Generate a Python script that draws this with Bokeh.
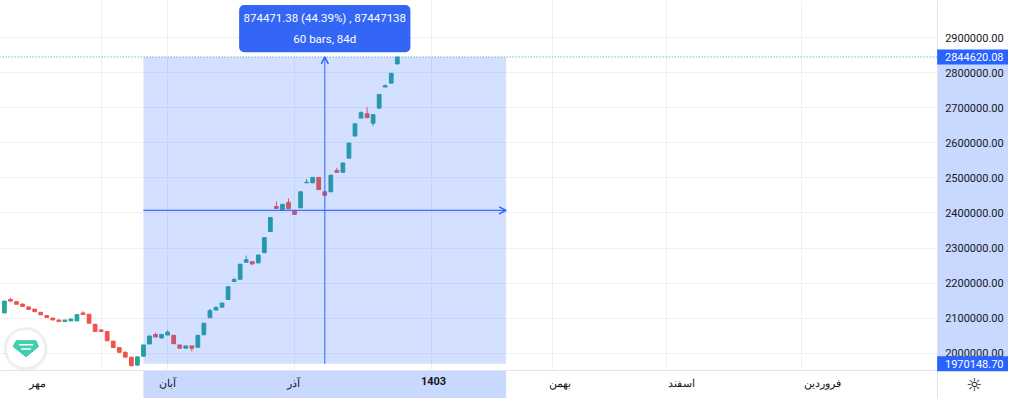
import numpy as np
from bokeh.plotting import figure
from bokeh.models import (Range1d, LinearAxis, FixedTicker, NumeralTickFormatter,
                          Arrow, OpenHead, Grid, ColumnDataSource)
from bokeh.core.properties import value
from bokeh.embed import file_html
from bokeh.resources import INLINE

# ---------------- data (daily candles) ----------------
open_ = [2115068, 2153425, 2147122, 2140547, 2132329, 2126027, 2116986, 2107671, 2100548, 2095068,
         2090411, 2092329, 2092329, 2115068, 2111507, 2083014, 2066575, 2062192, 2034795, 2016438,
         2002740, 1989041, 1966301, 1991781, 2026575, 2053973, 2043835, 2052055, 2051233, 2023836,
         2014521, 2021096, 2017260, 2052877, 2101370, 2123288, 2131507, 2153425, 2204658, 2210959,
         2259452, 2261096, 2257534, 2286849, 2347123, 2418356, 2409041, 2430137, 2404658, 2414521,
         2485753, 2485753, 2501370, 2460274, 2460274, 2521370, 2515890, 2556164, 2619178, 2670411,
         2683014, 2655616, 2698630, 2758904, 2769863, 2824657]
high_ = [2148767, 2158082, 2147122, 2140547, 2132329, 2126027, 2116986, 2107671, 2100548, 2095068,
         2095068, 2097808, 2110411, 2119726, 2111507, 2083014, 2068493, 2062192, 2034795, 2016438,
         2005479, 1989041, 1989863, 2023836, 2049315, 2059452, 2053973, 2065753, 2051233, 2023836,
         2021096, 2021096, 2051233, 2085753, 2126849, 2134247, 2143288, 2189863, 2215616, 2253973,
         2278630, 2261096, 2280274, 2329589, 2387123, 2432877, 2424658, 2441096, 2404658, 2460274,
         2496712, 2501370, 2501370, 2460274, 2507671, 2528767, 2542466, 2599178, 2653973, 2689589,
         2701370, 2680274, 2737808, 2766301, 2798082, 2844620.08]
low_ = [2115068, 2148767, 2139726, 2133424, 2125205, 2118630, 2109589, 2102192, 2095068, 2090411,
        2090411, 2092329, 2092329, 2110411, 2085753, 2062192, 2062192, 2035616, 2016438, 2002740,
        1989041, 1964384, 1966301, 1991781, 2026575, 2046575, 2041096, 2052055, 2027397, 2014521,
        2014521, 2005479, 2017260, 2052877, 2101370, 2123288, 2131507, 2153425, 2204658, 2210959,
        2259452, 2251233, 2257534, 2286849, 2347123, 2412877, 2409041, 2411781, 2395890, 2414521,
        2485753, 2485753, 2466575, 2450137, 2460274, 2515890, 2515890, 2556164, 2619178, 2670411,
        2671233, 2647397, 2698630, 2758904, 2769863, 2824657]
close_ = [2148767, 2148767, 2139726, 2133424, 2125205, 2118630, 2109589, 2102192, 2095068, 2090411,
          2095068, 2097808, 2110411, 2110411, 2085753, 2062192, 2062192, 2035616, 2016438, 2002740,
          1989041, 1964384, 1989863, 2023836, 2049315, 2046575, 2053973, 2060274, 2027397, 2014521,
          2021096, 2014521, 2051233, 2085753, 2121370, 2130685, 2143288, 2189863, 2210137, 2253973,
          2266575, 2254795, 2280274, 2329589, 2387123, 2412877, 2424658, 2411781, 2395890, 2460274,
          2487671, 2501370, 2466575, 2450137, 2507671, 2515890, 2542466, 2599178, 2653973, 2685753,
          2671233, 2680274, 2737808, 2762466, 2798082, 2844620.08]

price_ticks = [2000000, 2100000, 2200000, 2300000, 2400000, 2500000, 2600000, 2700000, 2800000, 2900000]
month_labels = ["مهر", "آبان", "آذر", "بهمن", "اسفند", "فروردین"]
month_label_pos = [5.4, 27.0, 47.9, 91.9, 112.1, 135.3]
year_labels = ["1403"]
year_label_pos = [71.0]
time_grid_pos = [16.1, 26.9, 48.0, 70.7, 90.7, 109.6, 131.8]

measure_start = 23
measure_bars = 60
measure_days = 84
measure_low = 1970148.70
measure_high = 2844620.08

# ---------------- layout helpers (reference pixel -> data) ----------------
BAR_PX = 6.14
def px2x(px):
    return (px - 4) / BAR_PX
def px2y(py):
    return 2000000 + (367 - py) / 36.5 * 100000
def dpx(n):
    return n / 36.5 * 100000

UP, DOWN = "#26a69a", "#ef5350"
BLUE = "#2962ff"
BORDER = "#e0e3eb"
GRID = "#eef0f5"
TXT = "#131722"

p = figure(width=1008, height=398,
           x_range=Range1d(px2x(0), px2x(1024)), y_range=Range1d(px2y(414), px2y(0)),
           x_axis_type=None, y_axis_type=None, toolbar_location=None,
           output_backend="svg", min_border=0, outline_line_color=None,
           background_fill_color="white", border_fill_color="white")

p.add_layout(Grid(dimension=0, ticker=FixedTicker(ticks=time_grid_pos), grid_line_color=GRID))
p.add_layout(Grid(dimension=1, ticker=FixedTicker(ticks=price_ticks), grid_line_color=GRID))

idx = list(range(len(open_)))
colors = [UP if c >= o else DOWN for o, c in zip(open_, close_)]
src = ColumnDataSource(dict(x=idx, o=open_, h=high_, l=low_, c=close_,
                            top=[max(o, c) for o, c in zip(open_, close_)],
                            bot=[min(o, c) for o, c in zip(open_, close_)],
                            col=colors))
p.segment(x0="x", y0="l", x1="x", y1="h", line_color="col", line_width=1, source=src)
p.vbar(x="x", width=0.62, top="top", bottom="bot", fill_color="col", line_color="col", source=src)

# last price dotted line
p.segment(x0=[px2x(-10)], y0=[close_[-1]], x1=[px2x(951.5)], y1=[close_[-1]],
          line_color=UP, line_dash="1 2", line_width=1)

# measurement overlay
m_left, m_right = measure_start, measure_start + measure_bars
p.quad(left=[m_left], right=[m_right], bottom=[measure_low], top=[measure_high],
       fill_color=BLUE, fill_alpha=0.2, line_color=None)

# axis panels
p.quad(left=[px2x(951.5)], right=[px2x(1040)], bottom=[px2y(430)], top=[px2y(-10)],
       fill_color="white", line_color=None)
p.quad(left=[px2x(-10)], right=[px2x(1040)], bottom=[px2y(430)], top=[px2y(384.5)],
       fill_color="white", line_color=None)
p.quad(left=[px2x(951.5)], right=[px2x(1040)], bottom=[measure_low], top=[measure_high],
       fill_color=BLUE, fill_alpha=0.25, line_color=None)
p.quad(left=[m_left], right=[m_right], bottom=[px2y(430)], top=[px2y(384.5)],
       fill_color=BLUE, fill_alpha=0.25, line_color=None)

yaxis = LinearAxis(fixed_location=px2x(951.5), ticker=FixedTicker(ticks=price_ticks),
                   formatter=NumeralTickFormatter(format="0.00"),
                   axis_line_color=BORDER, major_tick_line_color=None, minor_tick_line_color=None,
                   major_tick_out=0, major_label_standoff=8,
                   major_label_text_font_size="11px", major_label_text_color=TXT,
                   major_label_text_font="Roboto")
p.add_layout(yaxis, "right")

xaxis_m = LinearAxis(fixed_location=px2y(384.5), ticker=FixedTicker(ticks=month_label_pos),
                     major_label_overrides={k: v for k, v in zip(month_label_pos, month_labels)},
                     axis_line_color=BORDER, major_tick_line_color=None, minor_tick_line_color=None,
                     major_tick_out=0, major_label_standoff=7,
                     major_label_text_font_size="11px", major_label_text_color=TXT,
                     major_label_text_font="Roboto")
p.add_layout(xaxis_m, "below")
xaxis_y = LinearAxis(fixed_location=px2y(384.5), ticker=FixedTicker(ticks=year_label_pos),
                     major_label_overrides={k: v for k, v in zip(year_label_pos, year_labels)},
                     axis_line_color=BORDER, major_tick_line_color=None, minor_tick_line_color=None,
                     major_tick_out=0, major_label_standoff=7,
                     major_label_text_font_size="11px", major_label_text_color=TXT,
                     major_label_text_font="Roboto", major_label_text_font_style="bold")
p.add_layout(xaxis_y, "below")

# price tags on the price axis
tag_vals = [measure_high, measure_low]
tag_txt = ["%.2f" % v for v in tag_vals]
p.rect(x=[(px2x(951.5) + px2x(1024)) / 2] * 2, y=tag_vals, width=px2x(1024) - px2x(951.5),
       height=15, height_units="screen", fill_color=BLUE, line_color=None, level="overlay")
p.text(x=[px2x(959.5)] * 2, y=tag_vals, text=tag_txt, text_color="white",
       text_font=value("Roboto"), text_font_size="11px", text_baseline="middle",
       text_align="left", level="overlay")

# measurement crosshair arrows
mid_x = (m_left + m_right) / 2
mid_y = (measure_low + measure_high) / 2
p.add_layout(Arrow(end=OpenHead(size=7, line_color=BLUE, line_width=1.5),
                   x_start=mid_x, y_start=measure_low, x_end=mid_x, y_end=measure_high,
                   line_color=BLUE, line_width=1.3, line_alpha=0.75))
p.add_layout(Arrow(end=OpenHead(size=7, line_color=BLUE, line_width=1.5),
                   x_start=m_left, y_start=mid_y, x_end=m_right, y_end=mid_y,
                   line_color=BLUE, line_width=1.2, line_alpha=0.9))

# measurement tooltip
diff = measure_high - measure_low
pct = diff / measure_low * 100
line1 = "%.2f (%.2f%%) , %d" % (diff, pct, round(diff * 100))
line2 = "%d bars, %dd" % (measure_bars, measure_days)
half_w = 87 / BAR_PX
tip_bottom = measure_high + dpx(5)
p.quad(left=[mid_x - half_w], right=[mid_x + half_w], bottom=[tip_bottom], top=[tip_bottom + dpx(49)],
       fill_color="#3366f5", line_color=None, border_radius=5, level="overlay")
p.text(x=[mid_x, mid_x], y=[measure_high + dpx(40), measure_high + dpx(19)], text=[line1, line2],
       text_color="white", text_font=value("Roboto"), text_font_size="11.5px",
       text_align="center", text_baseline="middle", level="overlay")

# logo badge (bottom-left)
p.scatter(x=[px2x(25.5)], y=[px2y(362.5)], size=44, marker="circle", fill_color="#9aa0ab",
          fill_alpha=0.15, line_color=None)
p.scatter(x=[px2x(25.5)], y=[px2y(362)], size=39, marker="circle", fill_color="white",
          line_color="#e6e8ec", line_width=1)
gx = [px2x(v) for v in (16, 36, 38.5, 26, 13)]
gy = [px2y(v) for v in (354, 354, 360, 370.5, 360)]
p.patch(gx, gy, fill_color="#3fd0b0", line_color="#2ec4a3", line_width=1)
p.multi_line(xs=[[px2x(19), px2x(33)], [px2x(21), px2x(31)]],
             ys=[[px2y(358), px2y(358)], [px2y(362.5), px2y(362.5)]],
             line_color="white", line_width=1.5)

# settings icon (bottom-right)
p.text(x=[px2x(989)], y=[px2y(399)], text=["☼"], text_color=TXT,
       text_font=value("DejaVu Sans"), text_font_size="18px",
       text_align="center", text_baseline="middle", level="overlay")

open("out.html", "w").write(file_html(p, INLINE))
